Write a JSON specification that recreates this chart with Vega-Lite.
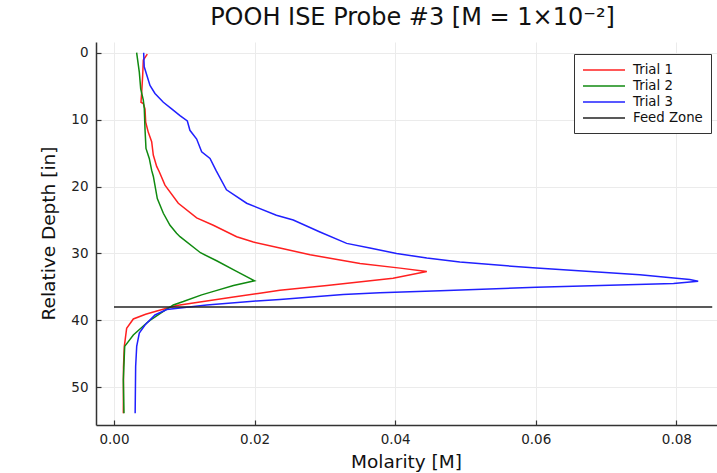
{
  "$schema": "https://vega.github.io/schema/vega-lite/v6.json",
  "width": 621,
  "height": 383,
  "autosize": {"type": "none"},
  "padding": {"left": 96, "top": 42, "right": 0, "bottom": 48},
  "background": "white",
  "config": {
    "font": "DejaVu Sans",
    "view": {"stroke": null},
    "axis": {
      "labelFont": "DejaVu Sans",
      "titleFont": "DejaVu Sans",
      "labelFontSize": 13.5,
      "labelColor": "#222222",
      "titleFontSize": 18.5,
      "titleFontWeight": "normal",
      "titleColor": "#111111",
      "gridColor": "#ebebeb",
      "gridWidth": 1,
      "domainColor": "#333333",
      "domainWidth": 1.5,
      "tickColor": "#333333",
      "tickWidth": 1.2
    }
  },
  "title": {
    "text": "POOH ISE Probe #3 [M = 1×10⁻²]",
    "font": "DejaVu Sans",
    "fontSize": 24,
    "fontWeight": "normal",
    "color": "#111111",
    "anchor": "middle",
    "offset": 12,
    "dx": 6
  },
  "data": {
    "values": [
      {"s": "Trial 1", "m": 0.00474, "d": 0.2},
      {"s": "Trial 1", "m": 0.00417, "d": 1.1},
      {"s": "Trial 1", "m": 0.00408, "d": 3.4},
      {"s": "Trial 1", "m": 0.00394, "d": 5.9},
      {"s": "Trial 1", "m": 0.00384, "d": 7.4},
      {"s": "Trial 1", "m": 0.00417, "d": 7.6},
      {"s": "Trial 1", "m": 0.00441, "d": 8.4},
      {"s": "Trial 1", "m": 0.00451, "d": 10.4},
      {"s": "Trial 1", "m": 0.00488, "d": 11.9},
      {"s": "Trial 1", "m": 0.00536, "d": 13.3},
      {"s": "Trial 1", "m": 0.00559, "d": 15.3},
      {"s": "Trial 1", "m": 0.00607, "d": 17.0},
      {"s": "Trial 1", "m": 0.00644, "d": 17.8},
      {"s": "Trial 1", "m": 0.00725, "d": 19.8},
      {"s": "Trial 1", "m": 0.00915, "d": 22.5},
      {"s": "Trial 1", "m": 0.01176, "d": 24.7},
      {"s": "Trial 1", "m": 0.01413, "d": 25.8},
      {"s": "Trial 1", "m": 0.01745, "d": 27.5},
      {"s": "Trial 1", "m": 0.01982, "d": 28.3},
      {"s": "Trial 1", "m": 0.0236, "d": 29.2},
      {"s": "Trial 1", "m": 0.0279, "d": 30.2},
      {"s": "Trial 1", "m": 0.035, "d": 31.5},
      {"s": "Trial 1", "m": 0.0407, "d": 32.2},
      {"s": "Trial 1", "m": 0.0445, "d": 32.7},
      {"s": "Trial 1", "m": 0.0397, "d": 33.7},
      {"s": "Trial 1", "m": 0.0303, "d": 34.8},
      {"s": "Trial 1", "m": 0.0236, "d": 35.5},
      {"s": "Trial 1", "m": 0.0205, "d": 36.0},
      {"s": "Trial 1", "m": 0.017, "d": 36.5},
      {"s": "Trial 1", "m": 0.0108, "d": 37.5},
      {"s": "Trial 1", "m": 0.0089, "d": 37.8},
      {"s": "Trial 1", "m": 0.0061, "d": 38.6},
      {"s": "Trial 1", "m": 0.0045, "d": 39.1},
      {"s": "Trial 1", "m": 0.00275, "d": 39.8},
      {"s": "Trial 1", "m": 0.0018, "d": 41.2},
      {"s": "Trial 1", "m": 0.00147, "d": 43.9},
      {"s": "Trial 1", "m": 0.00135, "d": 47.0},
      {"s": "Trial 1", "m": 0.00133, "d": 53.9},
      {"s": "Trial 2", "m": 0.00322, "d": 0.0},
      {"s": "Trial 2", "m": 0.0036, "d": 2.9},
      {"s": "Trial 2", "m": 0.0038, "d": 5.4},
      {"s": "Trial 2", "m": 0.00417, "d": 7.1},
      {"s": "Trial 2", "m": 0.00431, "d": 8.4},
      {"s": "Trial 2", "m": 0.00441, "d": 11.4},
      {"s": "Trial 2", "m": 0.00455, "d": 14.3},
      {"s": "Trial 2", "m": 0.00502, "d": 15.8},
      {"s": "Trial 2", "m": 0.00536, "d": 17.6},
      {"s": "Trial 2", "m": 0.0056, "d": 18.5},
      {"s": "Trial 2", "m": 0.00616, "d": 21.8},
      {"s": "Trial 2", "m": 0.00702, "d": 24.0},
      {"s": "Trial 2", "m": 0.00797, "d": 25.8},
      {"s": "Trial 2", "m": 0.0089, "d": 27.0},
      {"s": "Trial 2", "m": 0.00939, "d": 27.5},
      {"s": "Trial 2", "m": 0.0123, "d": 29.9},
      {"s": "Trial 2", "m": 0.0146, "d": 31.1},
      {"s": "Trial 2", "m": 0.0173, "d": 32.6},
      {"s": "Trial 2", "m": 0.0200, "d": 34.1},
      {"s": "Trial 2", "m": 0.0170, "d": 34.8},
      {"s": "Trial 2", "m": 0.0144, "d": 35.6},
      {"s": "Trial 2", "m": 0.01247, "d": 36.2},
      {"s": "Trial 2", "m": 0.00986, "d": 37.2},
      {"s": "Trial 2", "m": 0.00844, "d": 37.7},
      {"s": "Trial 2", "m": 0.00654, "d": 39.0},
      {"s": "Trial 2", "m": 0.00512, "d": 40.0},
      {"s": "Trial 2", "m": 0.00465, "d": 40.4},
      {"s": "Trial 2", "m": 0.00275, "d": 42.2},
      {"s": "Trial 2", "m": 0.00152, "d": 43.9},
      {"s": "Trial 2", "m": 0.00133, "d": 48.9},
      {"s": "Trial 2", "m": 0.00142, "d": 53.9},
      {"s": "Trial 3", "m": 0.00422, "d": 0.0},
      {"s": "Trial 3", "m": 0.0043, "d": 2.1},
      {"s": "Trial 3", "m": 0.00512, "d": 4.9},
      {"s": "Trial 3", "m": 0.00583, "d": 6.1},
      {"s": "Trial 3", "m": 0.00702, "d": 7.4},
      {"s": "Trial 3", "m": 0.0082, "d": 8.4},
      {"s": "Trial 3", "m": 0.00939, "d": 9.4},
      {"s": "Trial 3", "m": 0.01043, "d": 10.2},
      {"s": "Trial 3", "m": 0.0108, "d": 11.6},
      {"s": "Trial 3", "m": 0.01176, "d": 12.9},
      {"s": "Trial 3", "m": 0.01247, "d": 14.8},
      {"s": "Trial 3", "m": 0.01366, "d": 15.8},
      {"s": "Trial 3", "m": 0.01451, "d": 17.6},
      {"s": "Trial 3", "m": 0.016, "d": 20.5},
      {"s": "Trial 3", "m": 0.01887, "d": 22.5},
      {"s": "Trial 3", "m": 0.0231, "d": 24.3},
      {"s": "Trial 3", "m": 0.0255, "d": 25.0},
      {"s": "Trial 3", "m": 0.0293, "d": 26.8},
      {"s": "Trial 3", "m": 0.0331, "d": 28.5},
      {"s": "Trial 3", "m": 0.0364, "d": 29.2},
      {"s": "Trial 3", "m": 0.0402, "d": 30.0},
      {"s": "Trial 3", "m": 0.0445, "d": 30.7},
      {"s": "Trial 3", "m": 0.0492, "d": 31.3},
      {"s": "Trial 3", "m": 0.0601, "d": 32.2},
      {"s": "Trial 3", "m": 0.0748, "d": 33.2},
      {"s": "Trial 3", "m": 0.08, "d": 33.7},
      {"s": "Trial 3", "m": 0.0819, "d": 33.9},
      {"s": "Trial 3", "m": 0.0831, "d": 34.15},
      {"s": "Trial 3", "m": 0.0796, "d": 34.5},
      {"s": "Trial 3", "m": 0.0601, "d": 35.05},
      {"s": "Trial 3", "m": 0.0464, "d": 35.6},
      {"s": "Trial 3", "m": 0.0378, "d": 35.9},
      {"s": "Trial 3", "m": 0.0326, "d": 36.15},
      {"s": "Trial 3", "m": 0.0236, "d": 36.9},
      {"s": "Trial 3", "m": 0.0203, "d": 37.1},
      {"s": "Trial 3", "m": 0.0132, "d": 37.7},
      {"s": "Trial 3", "m": 0.0075, "d": 38.4},
      {"s": "Trial 3", "m": 0.00583, "d": 39.2},
      {"s": "Trial 3", "m": 0.00441, "d": 40.7},
      {"s": "Trial 3", "m": 0.0036, "d": 41.9},
      {"s": "Trial 3", "m": 0.00323, "d": 43.9},
      {"s": "Trial 3", "m": 0.00308, "d": 46.9},
      {"s": "Trial 3", "m": 0.00301, "d": 53.9},
      {"s": "Feed Zone", "m": 0.0, "d": 38.0},
      {"s": "Feed Zone", "m": 0.0851, "d": 38.0}
    ]
  },
  "mark": {"type": "line", "strokeWidth": 1.5, "clip": true},
  "encoding": {
    "x": {
      "field": "m",
      "type": "quantitative",
      "title": "Molarity [M]",
      "scale": {"domain": [-0.00256, 0.08578], "nice": false, "zero": false},
      "axis": {
        "values": [0, 0.02, 0.04, 0.06, 0.08],
        "format": ".2f",
        "tickSize": -5,
        "labelPadding": 12,
        "titleX": 310,
        "titleY": 36,
        "titleBaseline": "middle",
        "titleAnchor": null
      }
    },
    "y": {
      "field": "d",
      "type": "quantitative",
      "title": "Relative Depth [in]",
      "scale": {"domain": [-1.6, 55.65], "reverse": true, "nice": false, "zero": false},
      "axis": {
        "values": [0, 10, 20, 30, 40, 50],
        "tickSize": -5,
        "labelPadding": 13,
        "titleX": -48,
        "titleY": 191,
        "titleAngle": -90,
        "titleBaseline": "middle",
        "titleAlign": "center"
      }
    },
    "color": {
      "field": "s",
      "type": "nominal",
      "scale": {
        "domain": ["Trial 1", "Trial 2", "Trial 3", "Feed Zone"],
        "range": ["#ff2020", "#108a10", "#2020ff", "#222222"]
      },
      "legend": {
        "title": null,
        "orient": "none",
        "legendX": 478,
        "legendY": 12,
        "symbolType": "M-1,0H5",
        "symbolSize": 196,
        "symbolStrokeWidth": 1.5,
        "labelOffset": 35,
        "labelFontSize": 13.3,
        "labelFont": "DejaVu Sans",
        "labelColor": "#111111",
        "rowPadding": 1,
        "padding": 8,
        "strokeColor": "#333333",
        "fillColor": "white",
        "cornerRadius": 0
      }
    },
    "order": {"field": "d", "type": "quantitative"}
  }
}
